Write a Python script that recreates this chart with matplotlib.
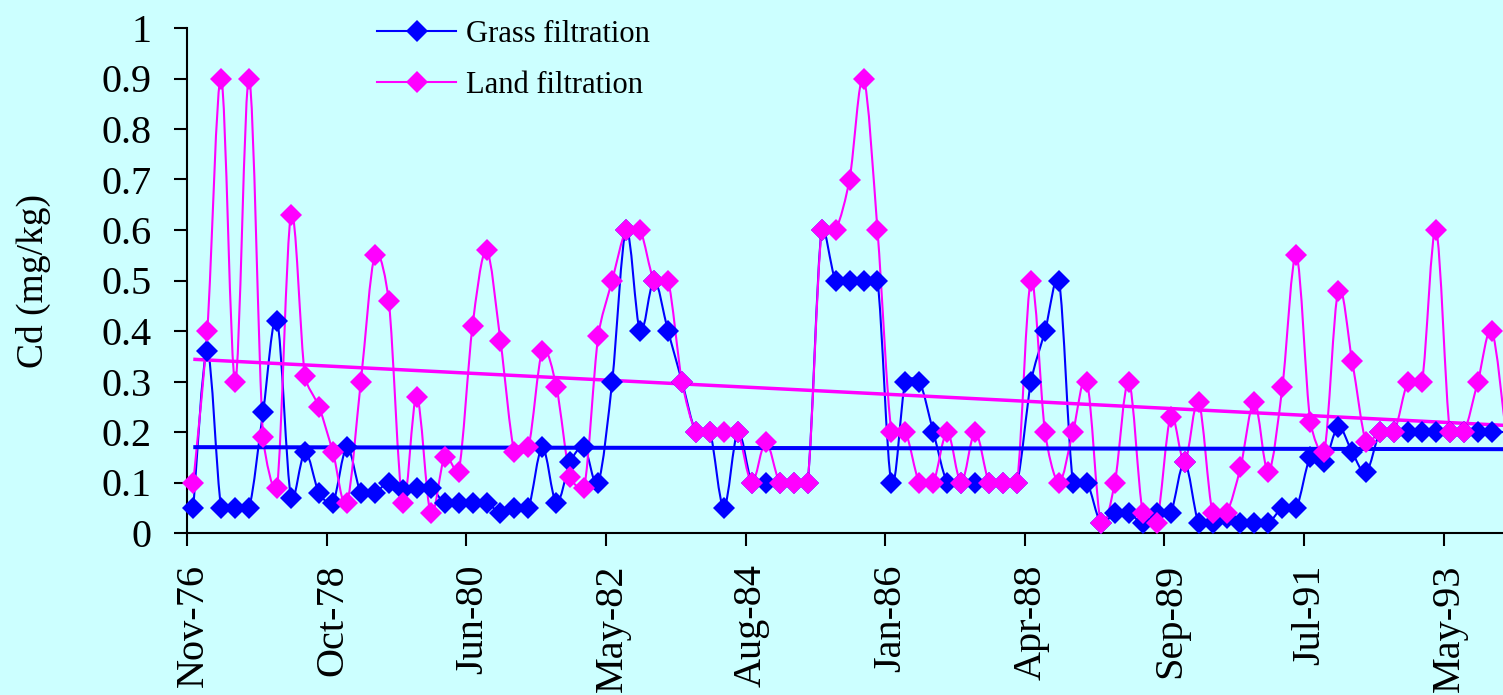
import numpy as np
import matplotlib
matplotlib.use("Agg")
import matplotlib.pyplot as plt
from matplotlib.path import Path
from matplotlib.patches import PathPatch
from matplotlib.lines import Line2D
from matplotlib.transforms import ScaledTranslation

# Cd content (mg/kg), one value per sampling, Nov-76 onwards
grass = [0.05, 0.36, 0.05, 0.05, 0.05, 0.24, 0.42, 0.07, 0.16, 0.08,
         0.06, 0.17, 0.08, 0.08, 0.10, 0.085, 0.09, 0.09, 0.06, 0.06,
         0.06, 0.06, 0.04, 0.05, 0.05, 0.17, 0.06, 0.14, 0.17, 0.10,
         0.30, 0.60, 0.40, 0.50, 0.40, 0.30, 0.20, 0.20, 0.05, 0.20,
         0.10, 0.10, 0.10, 0.10, 0.10, 0.60, 0.50, 0.50, 0.50, 0.50,
         0.10, 0.30, 0.30, 0.20, 0.10, 0.10, 0.10, 0.10, 0.10, 0.10,
         0.30, 0.40, 0.50, 0.10, 0.10, 0.02, 0.04, 0.04, 0.02, 0.04,
         0.04, 0.14, 0.02, 0.02, 0.03, 0.02, 0.02, 0.02, 0.05, 0.05,
         0.15, 0.14, 0.21, 0.16, 0.12, 0.20, 0.20, 0.20, 0.20, 0.20,
         0.20, 0.20, 0.20, 0.20, 0.20]
land = [0.10, 0.40, 0.90, 0.30, 0.90, 0.19, 0.09, 0.63, 0.31, 0.25,
        0.16, 0.06, 0.30, 0.55, 0.46, 0.06, 0.27, 0.04, 0.15, 0.12,
        0.41, 0.56, 0.38, 0.16, 0.17, 0.36, 0.29, 0.11, 0.09, 0.39,
        0.50, 0.60, 0.60, 0.50, 0.50, 0.30, 0.20, 0.20, 0.20, 0.20,
        0.10, 0.18, 0.10, 0.10, 0.10, 0.60, 0.60, 0.70, 0.90, 0.60,
        0.20, 0.20, 0.10, 0.10, 0.20, 0.10, 0.20, 0.10, 0.10, 0.10,
        0.50, 0.20, 0.10, 0.20, 0.30, 0.02, 0.10, 0.30, 0.04, 0.02,
        0.23, 0.14, 0.26, 0.04, 0.04, 0.13, 0.26, 0.12, 0.29, 0.55,
        0.22, 0.16, 0.48, 0.34, 0.18, 0.20, 0.20, 0.30, 0.30, 0.60,
        0.20, 0.20, 0.30, 0.40, 0.20]

# linear trend lines, value at first and last sampling
trend_x = [0, 94]
trend_grass = [0.170, 0.166]
trend_land = [0.344, 0.213]

date_labels = ["Nov-76", "Oct-78", "Jun-80", "May-82", "Aug-84",
               "Jan-86", "Apr-88", "Sep-89", "Jul-91", "May-93"]
y_labels = ["0", "0.1", "0.2", "0.3", "0.4", "0.5", "0.6", "0.7", "0.8", "0.9", "1"]

BG = "#CCFFFF"
BLUE = "#0000FF"
PINK = "#FF00FF"
MS = 11

plt.rcParams["font.family"] = ["Liberation Serif", "DejaVu Serif"]


def smooth_path(x, y, sx, sy):
    """
    平滑折线: 经过每个点的三次贝塞尔曲线
    sx, sy: 每个数据单位对应的像素, 控制点臂长不超过相邻线段的 1/3
    """
    pts = np.column_stack([np.asarray(x) * sx, np.asarray(y) * sy]).astype(float)
    n = len(pts)
    tang = np.array([(pts[min(i + 1, n - 1)] - pts[max(i - 1, 0)]) / 6 for i in range(n)])
    verts = [pts[0]]
    codes = [Path.MOVETO]
    for i in range(n - 1):
        p1, p2 = pts[i], pts[i + 1]
        lim = np.hypot(*(p2 - p1)) / 3
        arms = []
        for t in (tang[i], tang[i + 1]):
            tl = np.hypot(*t)
            arms.append(t * min(1.0, lim / tl) if tl > 0 else t)
        verts += [p1 + arms[0], p2 - arms[1], p2]
        codes += [Path.CURVE4] * 3
    verts = np.array(verts) / [sx, sy]
    return Path(verts, codes)


fig = plt.figure(figsize=(15.03, 6.95), dpi=100, facecolor=BG)
ax = fig.add_axes([187 / 1503, 162 / 695, 1316 / 1503, 505 / 695])
ax.set_facecolor(BG)

x = np.arange(len(grass))
x_left, x_right = -0.45, 93.8
vis = x <= x_right
px_x = 1316 / (x_right - x_left)
px_y = 505

for vals, color in [(grass, BLUE), (land, PINK)]:
    ax.add_patch(PathPatch(smooth_path(x, vals, px_x, px_y), fill=False,
                           edgecolor=color, lw=1.5, zorder=2))
    ax.plot(x[vis], np.array(vals)[vis], linestyle="none", marker="D",
            markersize=MS, color=color, markeredgewidth=0, zorder=3,
            clip_on=False)

ax.plot(trend_x, trend_grass, color=BLUE, lw=2.9, zorder=2.5,
        solid_capstyle="butt")
ax.plot(trend_x, trend_land, color=PINK, lw=2.5, zorder=2.5,
        solid_capstyle="butt")

ax.set_xlim(x_left, x_right)
ax.set_ylim(0, 1)

ax.set_xticks(x_left + 10 * np.arange(len(date_labels)))
ax.set_xticklabels(date_labels, rotation=90, fontsize=29)
ax.set_yticks(np.linspace(0, 1, 11))
ax.set_yticklabels(y_labels, fontsize=29)
ax.tick_params(direction="out", length=9.5, width=1.5)
ax.tick_params(axis="x", pad=13)
ax.tick_params(axis="y", pad=16)

for lab in ax.get_xticklabels():
    lab.set_transform(lab.get_transform() + ScaledTranslation(6 / 100, 0, fig.dpi_scale_trans))

for side in ["top", "right"]:
    ax.spines[side].set_visible(False)
for side in ["left", "bottom"]:
    ax.spines[side].set_linewidth(1.5)

ax.set_ylabel("Cd (mg/kg)", fontsize=27, labelpad=36)

handles = [Line2D([], [], color=BLUE, lw=1.5, marker="D", markersize=MS, markeredgewidth=0),
           Line2D([], [], color=PINK, lw=1.5, marker="D", markersize=MS, markeredgewidth=0)]
fig.legend(handles, ["Grass filtration", "Land filtration"], loc="upper left",
           bbox_to_anchor=(377 / 1503, 1 - 20 / 695), frameon=False, fontsize=22,
           handlelength=2.6, handletextpad=0.3, labelspacing=0.72,
           borderpad=0, borderaxespad=0)

fig.savefig("out.png", dpi=100, facecolor=BG)
